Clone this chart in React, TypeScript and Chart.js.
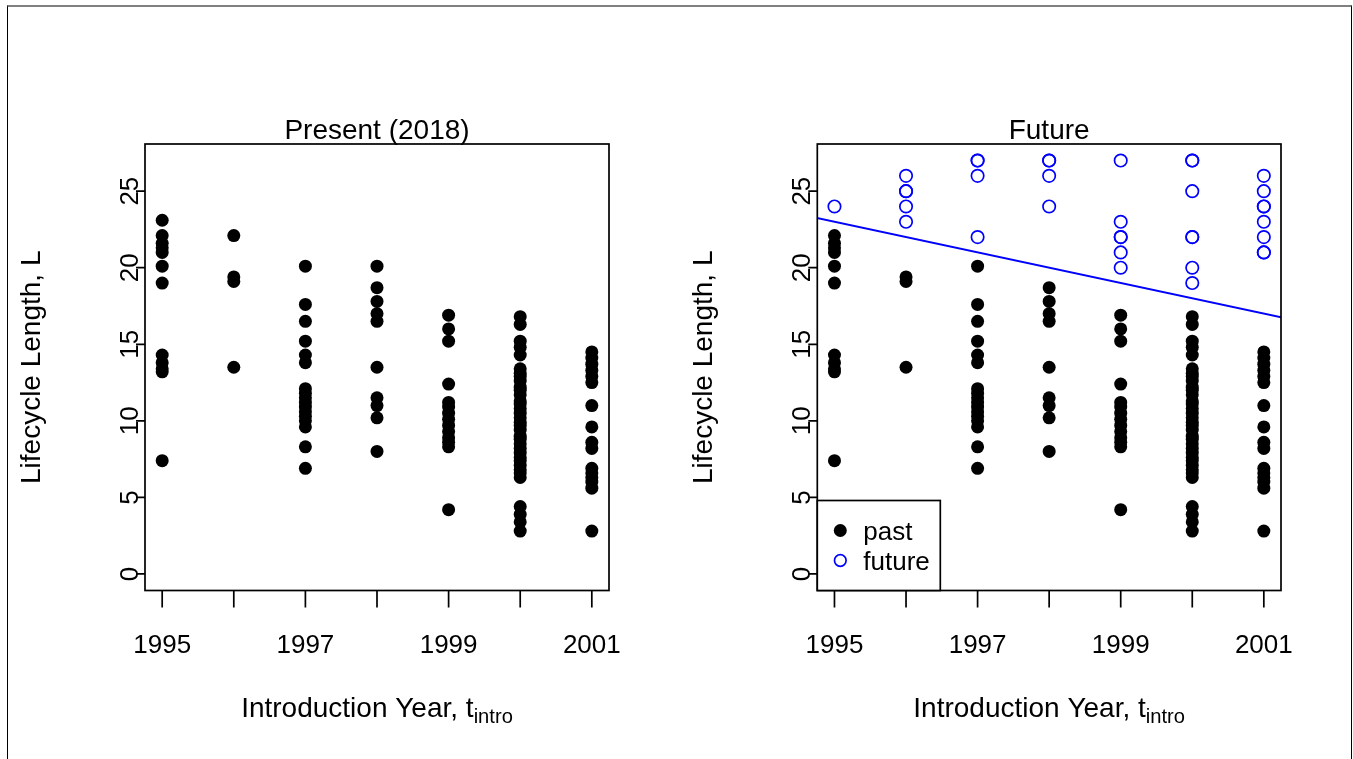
import React, { useEffect, useRef } from "react";
import { Chart, registerables } from "chart.js";

Chart.register(...registerables);

// ---------------- data ----------------
const yearTicks = [1995, 1996, 1997, 1998, 1999, 2000, 2001];
const yearTickLabels = ["1995", "", "1997", "", "1999", "", "2001"];
const lengthTicks = [0, 5, 10, 15, 20, 25];
const lengthTickLabels = ["0", "5", "10", "15", "20", "25"];

const past1995 = [22.1, 21.6, 21.3, 21.0, 20.1, 19.0, 14.3, 13.8, 13.4, 13.2, 7.4];
const past1996 = [19.4, 19.1, 13.5];
const past1997 = [20.1, 17.6, 16.5, 15.2, 14.3, 13.8, 12.1, 11.8, 11.5, 11.2, 10.9, 10.6, 10.3, 10.0, 9.6, 8.3, 6.9];
const past1998 = [18.7, 17.8, 17.0, 16.5, 13.5, 11.5, 11.0, 10.2, 8.0];
const past1999 = [16.9, 16.0, 15.2, 12.4, 11.2, 10.9, 10.5, 10.1, 9.7, 9.3, 8.9, 8.6, 8.3, 4.2];
const past2000 = [16.8, 16.3, 15.2, 14.8, 14.3, 13.4, 13.1, 12.9, 12.6, 12.2, 12.0, 11.7, 11.3, 11.1, 10.8, 10.5, 10.2, 9.9, 9.7, 9.4, 9.0, 8.8, 8.5, 8.2, 7.9, 7.6, 7.4, 7.1, 6.8, 6.6, 6.3, 4.4, 3.9, 3.4, 2.8];
const past2001 = [14.5, 14.1, 13.7, 13.3, 12.9, 12.5, 11.0, 9.6, 8.6, 8.2, 6.9, 6.6, 6.3, 6.0, 5.6, 2.8];

// points that only appear in the "Present (2018)" panel
const presentOnly1995 = [23.1];
const presentOnly1996 = [22.1];
const presentOnly1998 = [20.1];

const future1995 = [24];
const future1996 = [26, 25, 25, 24, 23];
const future1997 = [27, 27, 26, 22];
const future1998 = [27, 27, 26, 24];
const future1999 = [27, 23, 22, 22, 21, 20];
const future2000 = [27, 27, 25, 22, 22, 20, 19];
const future2001 = [26, 25, 24, 24, 23, 22, 21, 21];

const fitAt1995 = 23.0;
const fitSlope = -1.0;

const xMin = 1994.76;
const xMax = 2001.24;
const yMin = -1.08;
const yMax = 28.08;

// ---------------- helpers ----------------
type P = { x: number; y: number };
function pts(year: number, vals: number[]): P[] {
  return vals.map((v) => ({ x: year, y: v }));
}
const pastPoints: P[] = [
  ...pts(1995, past1995),
  ...pts(1996, past1996),
  ...pts(1997, past1997),
  ...pts(1998, past1998),
  ...pts(1999, past1999),
  ...pts(2000, past2000),
  ...pts(2001, past2001),
];
const presentPoints: P[] = [
  ...pts(1995, presentOnly1995),
  ...pts(1996, presentOnly1996),
  ...pts(1998, presentOnly1998),
  ...pastPoints,
];
const futurePoints: P[] = [
  ...pts(1995, future1995),
  ...pts(1996, future1996),
  ...pts(1997, future1997),
  ...pts(1998, future1998),
  ...pts(1999, future1999),
  ...pts(2000, future2000),
  ...pts(2001, future2001),
];
const fitLine: P[] = [xMin - 0.1, xMax + 0.1].map((x) => ({
  x,
  y: fitAt1995 + fitSlope * (x - 1995),
}));

const FONT = '"Liberation Sans", Arial, Helvetica, sans-serif';

function txt(
  ctx: CanvasRenderingContext2D,
  s: string,
  x: number,
  y: number,
  size: number,
  align: CanvasTextAlign,
  baseline: CanvasTextBaseline,
  rotate = 0
) {
  ctx.save();
  ctx.translate(x, y);
  if (rotate) ctx.rotate(rotate);
  ctx.font = `${size}px ${FONT}`;
  ctx.textAlign = align;
  ctx.textBaseline = baseline;
  ctx.fillStyle = "#000";
  ctx.fillText(s, 0, 0);
  ctx.restore();
}

const TICK_SIZE = 26;
const LAB_SIZE = 28;
const TITLE_SIZE = 28;
const LEG_SIZE = 26;

function makeDecor(title: string, legend: boolean) {
  return {
    id: "rDecor",
    afterDraw(chart: any) {
      const ctx: CanvasRenderingContext2D = chart.ctx;
      const a = chart.chartArea;
      const xs = chart.scales.x;
      const ys = chart.scales.y;
      const cx = (a.left + a.right) / 2;
      const cy = (a.top + a.bottom) / 2;
      ctx.save();
      ctx.strokeStyle = "#000";
      ctx.lineWidth = 1.7;
      // plot box
      ctx.strokeRect(a.left, a.top, a.right - a.left, a.bottom - a.top);
      // x ticks
      ctx.beginPath();
      yearTicks.forEach((t) => {
        const px = xs.getPixelForValue(t);
        ctx.moveTo(px, a.bottom);
        ctx.lineTo(px, a.bottom + 17);
      });
      // y ticks
      lengthTicks.forEach((t) => {
        const py = ys.getPixelForValue(t);
        ctx.moveTo(a.left, py);
        ctx.lineTo(a.left - 9, py);
      });
      ctx.stroke();
      yearTicks.forEach((t, i) => {
        if (!yearTickLabels[i]) return;
        txt(ctx, yearTickLabels[i], xs.getPixelForValue(t), a.bottom + 62, TICK_SIZE, "center", "alphabetic");
      });
      lengthTicks.forEach((t, i) => {
        txt(ctx, lengthTickLabels[i], a.left - 7, ys.getPixelForValue(t), TICK_SIZE, "center", "alphabetic", -Math.PI / 2);
      });
      // title
      txt(ctx, title, cx, a.top - 5, TITLE_SIZE, "center", "alphabetic");
      // x axis label with subscript
      ctx.font = `${LAB_SIZE}px ${FONT}`;
      const main = "Introduction Year, t";
      const w1 = ctx.measureText(main).width;
      ctx.font = `${LAB_SIZE * 0.72}px ${FONT}`;
      const w2 = ctx.measureText("intro").width;
      const sx = cx - (w1 + w2) / 2;
      const by = a.bottom + 126;
      txt(ctx, main, sx, by, LAB_SIZE, "left", "alphabetic");
      txt(ctx, "intro", sx + w1, by + 6, LAB_SIZE * 0.72, "left", "alphabetic");
      // y axis label
      txt(ctx, "Lifecycle Length, L", a.left - 105, cy, LAB_SIZE, "center", "alphabetic", -Math.PI / 2);

      if (legend) {
        const lx = a.left;
        const lb = a.bottom;
        const lw = 123;
        const lh = 90;
        ctx.fillStyle = "#fff";
        ctx.fillRect(lx, lb - lh, lw, lh);
        ctx.strokeRect(lx, lb - lh, lw, lh);
        // past symbol
        ctx.fillStyle = "#000";
        ctx.beginPath();
        ctx.arc(lx + 23, lb - 60, 6.5, 0, Math.PI * 2);
        ctx.fill();
        // future symbol
        ctx.strokeStyle = "#0000ff";
        ctx.lineWidth = 1.7;
        ctx.beginPath();
        ctx.arc(lx + 23, lb - 30, 5.8, 0, Math.PI * 2);
        ctx.stroke();
        txt(ctx, "past", lx + 46, lb - 51, LEG_SIZE, "left", "alphabetic");
        txt(ctx, "future", lx + 46, lb - 21, LEG_SIZE, "left", "alphabetic");
      }
      ctx.restore();
    },
  };
}

const W = 1353;
const H = 759;

function Panel(props: { left: number; right: number; title: string; future: boolean }) {
  const ref = useRef<HTMLCanvasElement | null>(null);
  useEffect(() => {
    if (!ref.current) return;
    const datasets: any[] = [];
    datasets.push({
      type: "scatter",
      label: "past",
      data: props.future ? pastPoints : presentPoints,
      pointStyle: "circle",
      pointRadius: 6.5,
      pointBackgroundColor: "#000",
      pointBorderWidth: 0,
      borderColor: "#000",
      backgroundColor: "#000",
      clip: false,
    });
    if (props.future) {
      datasets.push({
        type: "scatter",
        label: "future",
        data: futurePoints,
        pointStyle: "circle",
        pointRadius: 6.2,
        pointBackgroundColor: "rgba(0,0,0,0)",
        pointBorderColor: "#0000ff",
        pointBorderWidth: 1.7,
        clip: false,
      });
      datasets.push({
        type: "line",
        label: "fit",
        data: fitLine,
        borderColor: "#0000ff",
        borderWidth: 2,
        pointRadius: 0,
        fill: false,
        tension: 0,
        clip: 0,
      });
    }
    const chart = new Chart(ref.current, {
      type: "scatter",
      data: { datasets },
      options: {
        animation: false,
        responsive: false,
        devicePixelRatio: 1,
        events: [],
        layout: {
          padding: { left: props.left, right: W - props.right, top: 144, bottom: H - 590.5 },
        },
        plugins: {
          legend: { display: false },
          tooltip: { enabled: false },
          title: { display: false },
        },
        scales: {
          x: { type: "linear", min: xMin, max: xMax, display: false },
          y: { type: "linear", min: yMin, max: yMax, display: false },
        },
      },
      plugins: [makeDecor(props.title, props.future)],
    } as any);
    return () => chart.destroy();
  }, []);
  return (
    <canvas
      ref={ref}
      width={W}
      height={H}
      style={{ position: "absolute", left: 0, top: 0, width: W, height: H }}
    />
  );
}

export default function App() {
  return (
    <div style={{ position: "fixed", left: 0, top: 0, width: W, height: H, background: "#fff", overflow: "hidden" }}>
      <div
        style={{
          position: "absolute",
          left: 7,
          top: 5,
          width: 1343,
          height: 800,
          borderTop: "2px solid #808080",
          borderLeft: "1px solid #000",
          borderRight: "1px solid #000",
        }}
      />
      <Panel left={145} right={609} title="Present (2018)" future={false} />
      <Panel left={817.3} right={1281} title="Future" future={true} />
    </div>
  );
}
